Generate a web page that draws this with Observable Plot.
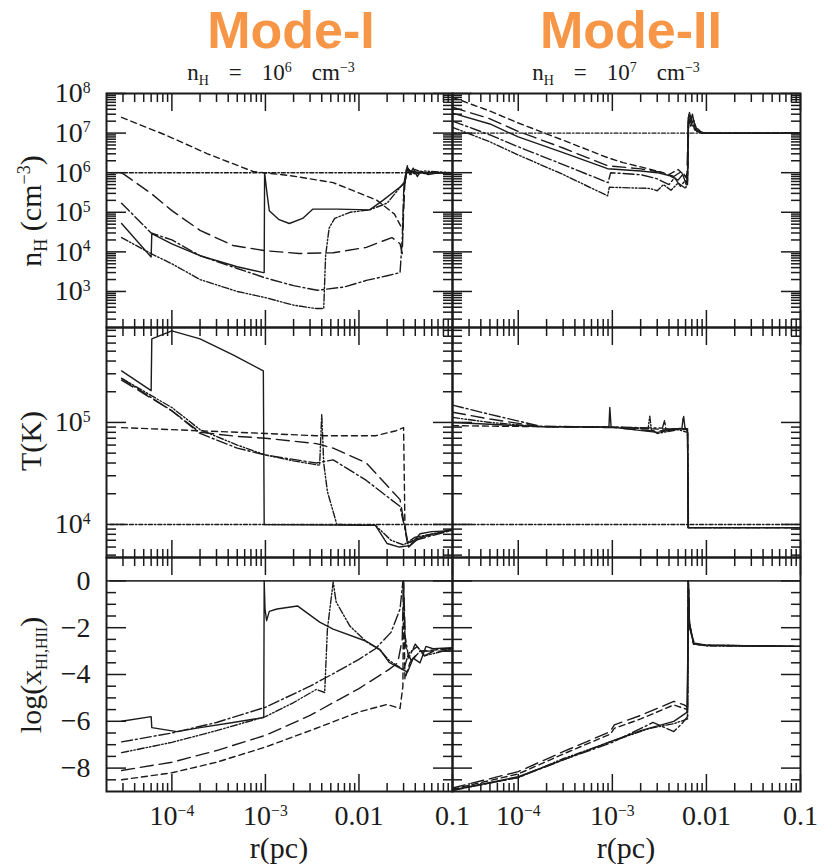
<!DOCTYPE html>
<html>
<head>
<meta charset="utf-8">
<script src="https://cdn.jsdelivr.net/npm/d3@7"></script>
<script src="https://cdn.jsdelivr.net/npm/@observablehq/plot@0.6"></script>
<style>
  html, body { margin: 0; padding: 0; background: #fff; }
  #root { position: relative; width: 832px; height: 868px; overflow: hidden; background: #fff; }
</style>
</head>
<body>
<div id="root"></div>
<script>
// ---------------- DATA ----------------
// radius r (pc) paired with the plotted quantity
// Mode-I (n_H = 1e6 cm^-3): density n_H (cm^-3)
const nI_init = [[2.2e-5,1e6],[0.1,1e6]];
const nI_A = [[2.9e-5,5.2e4],[6.0e-5,7.4e3],[6.1e-5,2.9e4],[1e-4,1.6e4],[2e-4,8e3],[5e-4,4.2e3],[9.5e-4,3e3],[9.7e-4,3e3],[9.8e-4,1e6],[1.04e-3,3e5],[1.1e-3,1.1e5],[1.4e-3,6.5e4],[1.8e-3,5.2e4],[2.5e-3,7e4],[3.2e-3,1.2e5],[6e-3,1.2e5],[1.3e-2,1.15e5],[1.8e-2,2e5],[3.1e-2,5.4e5],[3.3e-2,1.4e6],[3.5e-2,9e5],[3.8e-2,1.3e6],[4.2e-2,8e5],[4.6e-2,1.1e6],[5.5e-2,9e5],[7e-2,1e6],[0.1,1e6]];
const nI_B = [[2.9e-5,2.3e4],[6e-5,9e3],[1e-4,5e3],[2e-4,2e3],[5e-4,1e3],[1e-3,7e2],[2e-3,4.5e2],[3.5e-3,3.7e2],[4.2e-3,3.7e2],[4.4e-3,8e3],[4.8e-3,4e4],[5.5e-3,7e4],[8e-3,1e5],[1.3e-2,1.15e5],[2e-2,1.7e5],[3.1e-2,6e5],[3.3e-2,1.3e6],[4e-2,9e5],[5e-2,1.1e6],[0.1,1e6]];
const nI_C = [[2.9e-5,1.7e5],[6e-5,3e4],[1e-4,2e4],[2e-4,8e3],[5e-4,3.8e3],[1e-3,2.2e3],[2e-3,1.4e3],[3.6e-3,1.07e3],[7e-3,1.3e3],[1.2e-2,1.9e3],[2e-2,2.5e3],[2.75e-2,3e3],[2.9e-2,2e4],[3.0e-2,3e5],[3.2e-2,1.2e6],[4e-2,1e6],[0.1,1e6]];
const nI_D = [[2.9e-5,1e6],[6e-5,3e5],[1e-4,1.1e5],[2e-4,3.5e4],[4.5e-4,1.45e4],[1e-3,1.07e4],[2.3e-3,9.1e3],[5.3e-3,9.5e3],[1.2e-2,1.3e4],[2.25e-2,2.3e4],[2.75e-2,1.6e4],[2.9e-2,9e3],[3.0e-2,1e5],[3.1e-2,6e5],[3.3e-2,1.1e6],[5e-2,1e6],[0.1,1e6]];
const nI_E = [[2.9e-5,2.5e7],[8.8e-5,8.7e6],[2.4e-4,3e6],[7.4e-4,1.07e6],[1.8e-3,8.5e5],[5.3e-3,5.6e5],[1.56e-2,2e5],[2.4e-2,9e4],[2.95e-2,3.5e4],[3.05e-2,6e5],[3.3e-2,1.5e6],[3.6e-2,9e5],[4e-2,1.2e6],[5e-2,9.5e5],[7e-2,1e6],[0.1,1e6]];
// Mode-I: temperature T (K)
const TI_init = [[2.2e-5,1e4],[0.1,1e4]];
const TI_A = [[2.9e-5,3.2e5],[6e-5,2.05e5],[6.1e-5,6.6e5],[1e-4,7.9e5],[2e-4,6.6e5],[4.5e-4,4.6e5],[9.5e-4,3.2e5],[9.7e-4,1e4],[1.5e-2,9.8e3],[2e-2,6.5e3],[2.7e-2,6e3],[3.5e-2,6.2e3],[4.5e-2,8.1e3],[6e-2,8.5e3],[0.1,8.7e3]];
const TI_B = [[2.9e-5,2.7e5],[1e-4,1.4e5],[2e-4,8.5e4],[5e-4,6e4],[1e-3,4.8e4],[2e-3,4.2e4],[3.8e-3,3.8e4],[4.0e-3,1.2e5],[4.2e-3,4e4],[4.6e-3,2.1e4],[5.8e-3,1e4],[1.5e-2,9.8e3],[2.2e-2,7e3],[3e-2,6.3e3],[4e-2,7.5e3],[0.1,8.8e3]];
const TI_C = [[2.9e-5,2.7e5],[1e-4,1.3e5],[2e-4,7.8e4],[5e-4,5.6e4],[1e-3,4.8e4],[3.5e-3,4e4],[5.3e-3,4.3e4],[1.2e-2,2.7e4],[2.75e-2,1.5e4],[2.95e-2,1.1e4],[3.05e-2,1e4],[3.3e-2,6.5e3],[4e-2,7e3],[0.1,8.8e3]];
const TI_D = [[2.9e-5,2.6e5],[1e-4,1.3e5],[2e-4,8e4],[5e-4,7.3e4],[1e-3,7e4],[3.5e-3,6.2e4],[5.3e-3,5.6e4],[1.2e-2,4e4],[2.75e-2,1.75e4],[2.95e-2,1.2e4],[3.05e-2,1e4],[3.4e-2,6e3],[4.5e-2,7.5e3],[0.1,9e3]];
const TI_E = [[2.9e-5,8.9e4],[1e-3,7.8e4],[3.5e-3,7.4e4],[1.5e-2,7.4e4],[2.5e-2,8.3e4],[3.0e-2,8.9e4],[3.1e-2,1e4],[3.3e-2,6.5e3],[4e-2,7.2e3],[0.1,9e3]];
// Mode-I: log(x_HI,HII)
const xI_init = [[2.2e-5,0],[0.1,0]];
const xI_A = [[2.9e-5,-6.0],[6e-5,-5.8],[6.1e-5,-6.27],[1.13e-4,-6.44],[2e-4,-6.27],[4.5e-4,-6.05],[9.6e-4,-5.84],[9.7e-4,0],[9.9e-4,-1.2],[1.03e-3,-1.7],[1.1e-3,-1.3],[1.33e-3,-1.2],[2.2e-3,-1.07],[3.8e-3,-1.76],[5.3e-3,-2.06],[1.2e-2,-2.58],[1.67e-2,-2.92],[2.1e-2,-3.48],[3.3e-2,-3.9],[3.8e-2,-3.3],[4.5e-2,-3.5],[5.2e-2,-2.8],[6.2e-2,-2.9],[0.1,-2.85]];
const xI_B = [[2.9e-5,-7.34],[1e-4,-6.9],[3e-4,-6.4],[1e-3,-5.8],[2e-3,-5.2],[3.5e-3,-4.64],[4.3e-3,-4.77],[4.6e-3,-2.06],[5.3e-3,-0.05],[5.7e-3,-0.9],[8e-3,-1.93],[1.2e-2,-2.6],[1.67e-2,-2.95],[2.1e-2,-3.4],[3e-2,-3.8],[3.4e-2,-3.1],[4.2e-2,-2.8],[5e-2,-3.2],[0.1,-2.9]];
const xI_C = [[2.9e-5,-6.88],[1e-4,-6.5],[3e-4,-6.05],[1e-3,-5.4],[3e-3,-4.5],[6e-3,-3.85],[1e-2,-3.35],[1.5e-2,-2.9],[2.2e-2,-2.2],[2.75e-2,-1.2],[2.95e-2,0],[3.1e-2,-2.3],[3.4e-2,-3.3],[4e-2,-2.7],[5e-2,-3.2],[7e-2,-2.9],[0.1,-2.9]];
const xI_D = [[2.9e-5,-8.1],[1e-4,-7.75],[3e-4,-7.25],[1e-3,-6.6],[3e-3,-5.75],[1e-2,-4.6],[2.1e-2,-3.78],[2.6e-2,-3.5],[2.9e-2,-2.5],[3.0e-2,0],[3.15e-2,-2.8],[3.6e-2,-3.4],[4.5e-2,-3.0],[0.1,-3.0]];
const xI_E = [[2.9e-5,-8.5],[1e-4,-8.2],[3e-4,-7.75],[1e-3,-7.1],[3e-3,-6.4],[1e-2,-5.6],[2e-2,-5.28],[2.75e-2,-5.45],[2.95e-2,-4.5],[3.0e-2,0],[3.1e-2,-4.2],[3.5e-2,-3.5],[4.5e-2,-3.0],[0.1,-2.9]];

// Mode-II (n_H = 1e7 cm^-3): density
const nII_init = [[2e-5,1e7],[0.1,1e7]];
const nII_A = [[2e-5,3.2e7],[5e-5,1.7e7],[1e-4,8e6],[3e-4,3.2e6],[8.9e-4,1.26e6],[2e-3,1.1e6],[3e-3,1e6],[4e-3,8.5e5],[5e-3,6.5e5],[5.6e-3,9e5],[6.1e-3,5e5],[6.3e-3,8e5],[6.4e-3,2.5e7],[6.7e-3,1.8e7],[7.1e-3,3e7],[7.6e-3,1.3e7],[8.5e-3,1.05e7],[1e-2,1e7],[0.1,1e7]];
const nII_B = [[2e-5,1.4e7],[5e-5,6e6],[1e-4,2.8e6],[3e-4,9e5],[8.9e-4,2.6e5],[9.3e-4,4.3e5],[2.5e-3,4e5],[3e-3,3.5e5],[3.5e-3,5e5],[4.2e-3,3.6e5],[5e-3,5.5e5],[6e-3,4e5],[6.3e-3,6e5],[6.45e-3,2e7],[6.8e-3,1.5e7],[7.3e-3,2.2e7],[8e-3,1.1e7],[1e-2,1e7],[0.1,1e7]];
const nII_C = [[2e-5,2e7],[5e-5,9e6],[1e-4,4.5e6],[3e-4,1.6e6],[9e-4,5.6e5],[9.6e-4,1e6],[2e-3,8.9e5],[3e-3,7e5],[4e-3,5e5],[4.6e-3,7.5e5],[5.3e-3,4.5e5],[6e-3,6.5e5],[6.3e-3,5e5],[6.4e-3,1.2e7],[6.6e-3,3.3e7],[7e-3,2e7],[7.8e-3,1.4e7],[9e-3,1e7],[0.1,1e7]];
const nII_D = [[2e-5,4.5e7],[5e-5,2.3e7],[1e-4,1.1e7],[3e-4,4.2e6],[8.9e-4,1.5e6],[2e-3,1.25e6],[3.5e-3,1e6],[4.5e-3,8e5],[5.5e-3,1.1e6],[6.2e-3,7e5],[6.4e-3,2e7],[6.9e-3,2.5e7],[7.5e-3,1.2e7],[9e-3,1e7],[0.1,1e7]];
const nII_E = [[2e-5,8e7],[5e-5,3.6e7],[1e-4,1.8e7],[3e-4,6.6e6],[8.9e-4,2.4e6],[1.3e-3,1.8e6],[2e-3,1.4e6],[3e-3,1.1e6],[4e-3,9e5],[5e-3,1.2e6],[6e-3,8e5],[6.35e-3,1e6],[6.5e-3,3e7],[7e-3,1.6e7],[8e-3,1.1e7],[1e-2,1e7],[0.1,1e7]];
// Mode-II: temperature
const TII_init = [[2e-5,1e4],[0.1,1e4]];
const TII_A = [[2e-5,1e5],[5e-5,9.6e4],[1.7e-4,9.1e4],[9.2e-4,9e4],[9.4e-4,1.4e5],[9.7e-4,9e4],[3e-3,8e4],[5e-3,8.6e4],[6.1e-3,8.6e4],[6.3e-3,8e4],[6.4e-3,9.3e3],[0.1,9.3e3]];
const TII_B = [[2e-5,1.12e5],[5e-5,1e5],[1.7e-4,9.1e4],[1e-3,9e4],[2.4e-3,8.7e4],[2.5e-3,1.15e5],[2.6e-3,8.5e4],[3e-3,7.8e4],[5e-3,8.5e4],[6.3e-3,8e4],[6.45e-3,9.3e3],[0.1,9.3e3]];
const TII_C = [[2e-5,1.48e5],[5e-5,1.2e5],[1.7e-4,9.2e4],[1e-3,9e4],[3.4e-3,8.8e4],[3.6e-3,1.05e5],[3.7e-3,8.6e4],[5e-3,8.7e4],[6.3e-3,8.5e4],[6.4e-3,9.3e3],[0.1,9.3e3]];
const TII_D = [[2e-5,1.26e5],[5e-5,1.08e5],[1.7e-4,9.1e4],[1e-3,8.9e4],[3e-3,8.2e4],[5.5e-3,8.8e4],[5.7e-3,1.2e5],[5.9e-3,9e4],[6.3e-3,8.3e4],[6.4e-3,9.3e3],[0.1,9.3e3]];
const TII_E = [[2e-5,9.3e4],[5e-5,9.2e4],[1.7e-4,9.1e4],[1e-3,9e4],[3e-3,8.6e4],[6.3e-3,8.7e4],[6.4e-3,9.3e3],[0.1,9.3e3]];
// Mode-II: log(x_HI,HII)
const xII_init = [[2e-5,0],[0.1,0]];
const xII_A = [[2e-5,-8.93],[1e-4,-8.37],[3e-4,-7.65],[9.5e-4,-6.87],[2e-3,-6.4],[4.5e-3,-6.0],[6.2e-3,-5.62],[6.35e-3,-3],[6.42e-3,0],[6.6e-3,-1.8],[7.3e-3,-2.65],[1e-2,-2.75],[0.1,-2.8]];
const xII_B = [[2e-5,-8.95],[1e-4,-8.4],[3e-4,-7.6],[1e-3,-6.85],[2.5e-3,-6.3],[4.5e-3,-6.1],[6.3e-3,-5.9],[6.42e-3,0],[6.6e-3,-2.0],[7.5e-3,-2.7],[1e-2,-2.78],[0.1,-2.8]];
const xII_C = [[2e-5,-8.95],[1e-4,-8.4],[3e-4,-7.65],[1e-3,-6.9],[2.7e-3,-6.05],[4.5e-3,-6.44],[5.5e-3,-6.1],[6.3e-3,-5.8],[6.42e-3,0],[6.6e-3,-1.9],[7.3e-3,-2.7],[1e-2,-2.75],[0.1,-2.8]];
const xII_D = [[2e-5,-8.85],[1e-4,-8.15],[3e-4,-7.3],[9.5e-4,-6.44],[1.05e-3,-6.15],[2e-3,-5.75],[4.5e-3,-5.15],[5.8e-3,-5.3],[6.3e-3,-5.4],[6.42e-3,0],[6.6e-3,-1.8],[7.3e-3,-2.7],[1e-2,-2.75],[0.1,-2.8]];
const xII_E = [[2e-5,-8.9],[1e-4,-8.25],[3e-4,-7.4],[9.5e-4,-6.55],[1.05e-3,-6.3],[2e-3,-5.9],[4.5e-3,-5.3],[6.3e-3,-5.5],[6.42e-3,0],[6.6e-3,-1.8],[7.3e-3,-2.7],[1e-2,-2.75],[0.1,-2.8]];

// tick values & labels
const rDomain = [2e-5, 0.1];
const rMajor = [1e-4, 1e-3, 1e-2, 1e-1];
const rLabels = ["10^−4", "10^−3", "0.01", "0.1"];
const nDomain = [123, 1e8];
const nMajor = [1e3, 1e4, 1e5, 1e6, 1e7, 1e8];
const nLabels = ["10^3", "10^4", "10^5", "10^6", "10^7", "10^8"];
const TDomain = [4740, 853000];
const TMajor = [1e4, 1e5];
const TLabels = ["10^4", "10^5"];
const xfDomain = [-9, 1];
const xfMajor = [-8, -6, -4, -2, 0];
const xfLabels = ["−8", "−6", "−4", "−2", "0"];
const xfMinor = [-8.5, -7.5, -7, -6.5, -5.5, -5, -4.5, -3.5, -3, -2.5, -1.5, -1, -0.5];

// ---------------- LAYOUT ----------------
const INK = "#1b1b1b";
const SERIF = "'Liberation Serif', 'DejaVu Serif', serif";
const colLeft = [106, 452], colWidth = [346, 348];
const rowTop = [93, 327, 557], rowHeight = [234, 230, 234];
const DASH = {init: "4,2,1.5,2", A: null, B: "7,2,1.5,2,1.5,2", C: "11,3,2,3", D: "13,6", E: "6,4"};

function logMinor([lo, hi]) {
  const out = [];
  for (let e = Math.floor(Math.log10(lo)); e <= Math.ceil(Math.log10(hi)); e++)
    for (let m = 2; m <= 9; m++) { const v = m * Math.pow(10, e); if (v > lo * 1.001 && v < hi * 0.999) out.push(v); }
  return out;
}
const rMinor = logMinor(rDomain);

function supify(svg) {
  svg.querySelectorAll("text").forEach(t => {
    const s = t.textContent; const i = s.indexOf("^");
    if (i < 0) return;
    t.textContent = s.slice(0, i);
    const sp = document.createElementNS("http://www.w3.org/2000/svg", "tspan");
    sp.setAttribute("dy", "-0.62em"); sp.setAttribute("font-size", "0.56em");
    sp.textContent = s.slice(i + 1);
    t.appendChild(sp);
  });
}

function makePanel(col, row, ycfg, series, yMajor, yMinor, yLabels, zeroSolid) {
  const marks = [];
  for (const [key, data] of series) {
    const isZero = key === "init" && zeroSolid;
    const solid = key === "A" || isZero;
    marks.push(Plot.line(data, {x: d => d[0], y: d => d[1], stroke: isZero ? "#333" : INK,
      strokeWidth: isZero ? 1.8 : 1.4, strokeDasharray: solid ? null : DASH[key], clip: true}));
  }
  const tk = {fill: "none", label: null, stroke: INK, strokeWidth: 1.5};
  for (const a of ["top", "bottom"]) {
    marks.push(Plot.axisX({...tk, ticks: rMajor, anchor: a, tickSize: -17}));
    marks.push(Plot.axisX({...tk, ticks: rMinor, anchor: a, tickSize: -8}));
  }
  for (const a of ["left", "right"]) {
    marks.push(Plot.axisY({...tk, ticks: yMajor, anchor: a, tickSize: -20}));
    marks.push(Plot.axisY({...tk, ticks: yMinor, anchor: a, tickSize: -10}));
  }
  if (row === 2) {
    const m = new Map(rMajor.map((v, i) => [v, rLabels[i]]));
    marks.push(Plot.axisX({ticks: rMajor, anchor: "bottom", tickSize: 0, tickPadding: 14, tickFormat: d => m.get(d),
      fontSize: 28, fontFamily: SERIF, fill: INK, label: null}));
  }
  if (col === 0) {
    const m = new Map(yMajor.map((v, i) => [v, yLabels[i]]));
    marks.push(Plot.axisY({ticks: yMajor, anchor: "left", tickSize: 0, tickPadding: 16, tickFormat: d => m.get(d),
      fontSize: 28, fontFamily: SERIF, fill: INK, label: null}));
  }
  marks.push(Plot.frame({stroke: INK, strokeWidth: 2}));
  const svg = Plot.plot({
    width: colWidth[col], height: rowHeight[row], margin: 0,
    x: {type: "log", domain: rDomain},
    y: ycfg,
    marks
  });
  svg.style.position = "absolute";
  svg.style.left = colLeft[col] + "px";
  svg.style.top = rowTop[row] + "px";
  svg.style.overflow = "visible";
  svg.style.background = "transparent";
  svg.style.maxWidth = "none";
  supify(svg);
  return svg;
}

const root = document.getElementById("root");
const nMinor = logMinor(nDomain), TMinor = logMinor(TDomain);
const nY = {type: "log", domain: nDomain}, TY = {type: "log", domain: TDomain}, xY = {type: "linear", domain: xfDomain};

root.appendChild(makePanel(0, 0, nY, [["init", nI_init], ["E", nI_E], ["D", nI_D], ["C", nI_C], ["B", nI_B], ["A", nI_A]], nMajor, nMinor, nLabels));
root.appendChild(makePanel(1, 0, nY, [["init", nII_init], ["E", nII_E], ["D", nII_D], ["C", nII_C], ["B", nII_B], ["A", nII_A]], nMajor, nMinor, nLabels));
root.appendChild(makePanel(0, 1, TY, [["init", TI_init], ["E", TI_E], ["D", TI_D], ["C", TI_C], ["B", TI_B], ["A", TI_A]], TMajor, TMinor, TLabels));
root.appendChild(makePanel(1, 1, TY, [["init", TII_init], ["E", TII_E], ["D", TII_D], ["C", TII_C], ["B", TII_B], ["A", TII_A]], TMajor, TMinor, TLabels));
root.appendChild(makePanel(0, 2, xY, [["init", xI_init], ["E", xI_E], ["D", xI_D], ["C", xI_C], ["B", xI_B], ["A", xI_A]], xfMajor, xfMinor, xfLabels, true));
root.appendChild(makePanel(1, 2, xY, [["init", xII_init], ["E", xII_E], ["D", xII_D], ["C", xII_C], ["B", xII_B], ["A", xII_A]], xfMajor, xfMinor, xfLabels, true));

// ---------------- TEXT OVERLAY ----------------
const NS = "http://www.w3.org/2000/svg";
const ov = document.createElementNS(NS, "svg");
ov.setAttribute("width", 832); ov.setAttribute("height", 868);
ov.style.position = "absolute"; ov.style.left = "0"; ov.style.top = "0"; ov.style.overflow = "visible";
const sub = (label, x) => `<text x="${x}" y="80">n<tspan font-size="14" dy="5">H</tspan><tspan dy="-5" dx="20">=</tspan><tspan dx="20">10</tspan><tspan font-size="14" dy="-8">${label}</tspan><tspan dy="8" dx="20">cm</tspan><tspan font-size="14" dy="-8">−3</tspan></text>`;
ov.innerHTML = `
<g font-family="'Liberation Sans', Arial, sans-serif" font-weight="bold" font-size="52" fill="#F79646" text-anchor="middle">
  <text x="291" y="48">Mode-I</text>
  <text x="631" y="48">Mode-II</text>
</g>
<g font-family="${SERIF}" fill="${INK}" font-size="23" text-anchor="middle">
  ${sub("6", 271)}
  ${sub("7", 616)}
</g>
<g font-family="${SERIF}" fill="${INK}" font-size="30" text-anchor="middle">
  <text x="279" y="858">r(pc)</text>
  <text x="626" y="858">r(pc)</text>
  <text transform="translate(41,211) rotate(-90)">n<tspan font-size="18" dy="6">H</tspan><tspan dy="-6"> (cm</tspan><tspan font-size="18" dy="-11">−3</tspan><tspan dy="11">)</tspan></text>
  <text transform="translate(41,441) rotate(-90)">T(K)</text>
  <text transform="translate(41,675) rotate(-90)">log(x<tspan font-size="16" dy="6">HI,HII</tspan><tspan dy="-6">)</tspan></text>
</g>`;
root.appendChild(ov);
</script>
</body>
</html>
